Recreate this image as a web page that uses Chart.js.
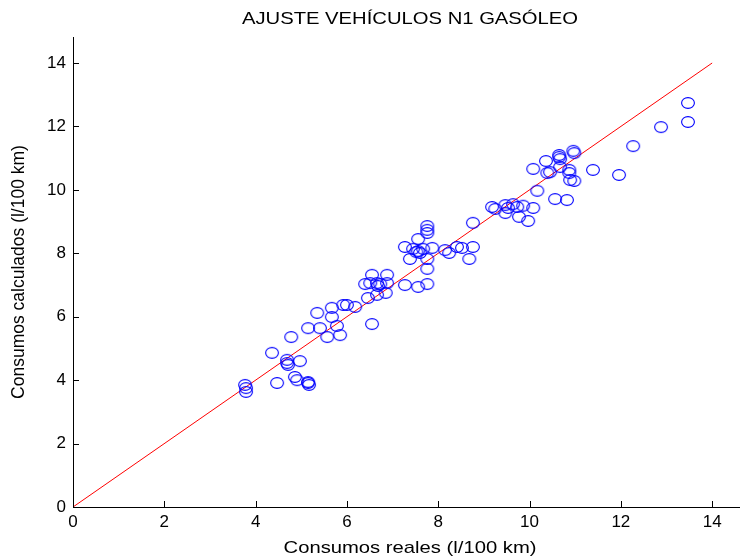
<!DOCTYPE html>
<html lang="es">
<head>
<meta charset="UTF-8">
<title>Ajuste vehículos N1 gasóleo</title>
<script src="https://cdn.jsdelivr.net/npm/chart.js"></script>
<style>
    * { margin: 0; padding: 0; box-sizing: border-box; }
    body { background: #fff; }
    .wrap { width: 740px; height: 560px; }
</style>
</head>
<body>
<div class="wrap"><canvas id="ajusteChart"></canvas></div>
<script>
// consumo real vs. consumo calculado por el modelo (l/100 km)
const consumoReal = [
    3.77, 3.79, 3.79, 4.36, 4.47, 4.69, 4.69, 4.71, 4.78, 4.97,
    4.86, 4.91, 5.15, 5.15, 5.17, 5.15, 5.41, 5.57, 5.78, 5.85,
    5.35, 5.67, 5.67, 5.92, 6.00, 6.18, 6.46, 6.40, 6.51, 6.55,
    6.66, 6.68, 6.73, 6.88, 6.88, 6.85, 6.66, 6.55, 7.27, 7.56,
    7.76, 7.27, 7.45, 7.52, 7.56, 7.60, 7.67, 7.56, 7.76, 7.76,
    7.76, 7.87, 7.38, 7.76, 7.76, 8.15, 8.24, 8.41, 8.52, 8.76,
    8.68, 8.76, 9.18, 9.25, 9.47, 9.47, 9.53, 9.64, 9.73, 9.77,
    9.86, 9.97, 10.08, 10.17, 10.08, 10.36, 10.39, 10.45, 10.56, 10.65,
    10.65, 10.67, 10.67, 10.87, 10.87, 10.89, 10.98, 10.96, 10.98, 10.82,
    11.39, 11.96, 12.27, 12.88, 13.47, 13.47
];
const consumoCalc = [
    3.85, 3.75, 3.63, 4.86, 3.91, 4.64, 4.54, 4.48, 5.36, 4.60,
    4.10, 4.00, 3.94, 3.91, 3.85, 5.64, 5.64, 5.36, 5.71, 5.42,
    6.12, 5.99, 6.28, 6.37, 6.37, 6.31, 6.59, 7.03, 7.06, 7.32,
    7.06, 6.97, 7.03, 7.06, 7.32, 6.75, 6.69, 5.77, 7.00, 6.94,
    7.03, 8.20, 8.14, 8.04, 8.07, 8.01, 8.14, 8.45, 8.86, 8.74,
    8.64, 8.17, 7.82, 7.82, 7.51, 8.10, 8.01, 8.20, 8.17, 8.20,
    7.82, 8.96, 9.46, 9.40, 9.52, 9.27, 9.43, 9.55, 9.46, 9.15,
    9.50, 9.02, 9.43, 9.97, 10.66, 10.91, 10.53, 10.56, 9.71, 11.10,
    11.04, 10.97, 10.72, 10.63, 10.53, 10.31, 10.28, 11.23, 11.16, 9.68,
    10.63, 10.47, 11.38, 11.98, 12.74, 12.14
];
// recta y = x
const rectaX = [0, 14];
const rectaY = [0, 14];
const ticksEjes = [0, 2, 4, 6, 8, 10, 12, 14];

const titulo = 'AJUSTE VEHÍCULOS N1 GASÓLEO';
const tituloX = 'Consumos reales (l/100 km)';
const tituloY = 'Consumos calculados (l/100 km)';

const FUENTE = "'Liberation Sans', Arial, sans-serif";

// marcador 'o' algo achatado
function marcador() {
    const c = document.createElement('canvas');
    c.width = 16; c.height = 14;
    const g = c.getContext('2d');
    g.strokeStyle = '#0000ff';
    g.lineWidth = 1.1;
    g.beginPath();
    g.ellipse(8, 7, 6.4, 5.4, 0, 0, Math.PI * 2);
    g.stroke();
    return c;
}

// marcas de escala hacia dentro
const marcasDentro = {
    id: 'marcasDentro',
    afterDraw(chart) {
        const { ctx, chartArea, scales } = chart;
        ctx.save();
        ctx.strokeStyle = '#000';
        ctx.lineWidth = 1;
        ctx.beginPath();
        ticksEjes.forEach(v => {
            const px = Math.round(scales.x.getPixelForValue(v)) + 0.5;
            ctx.moveTo(px, chartArea.bottom);
            ctx.lineTo(px, chartArea.bottom - 6);
            const py = Math.round(scales.y.getPixelForValue(v)) + 0.5;
            ctx.moveTo(chartArea.left, py);
            ctx.lineTo(chartArea.left + 6, py);
        });
        ctx.stroke();
        ctx.restore();
    }
};

// títulos horizontales, algo ensanchados
const textosAnchos = {
    id: 'textosAnchos',
    afterDraw(chart) {
        const { ctx } = chart;
        const cx = 410;
        ctx.save();
        ctx.fillStyle = '#000';
        ctx.font = '17px ' + FUENTE;
        ctx.textAlign = 'center';
        ctx.textBaseline = 'alphabetic';
        [[titulo, 23.5], [tituloX, 552.5]].forEach(([txt, y]) => {
            ctx.save();
            ctx.translate(cx, y);
            ctx.scale(1.19, 1);
            ctx.fillText(txt, 0, 0);
            ctx.restore();
        });
        ctx.restore();
    }
};

const puntos = consumoReal.map((x, i) => ({ x: x, y: consumoCalc[i] }));
const recta = rectaX.map((x, i) => ({ x: x, y: rectaY[i] }));

new Chart(document.getElementById('ajusteChart'), {
    type: 'scatter',
    data: {
        datasets: [
            {
                data: recta,
                showLine: true,
                borderColor: '#ff0000',
                borderWidth: 1,
                pointRadius: 0,
                order: 2
            },
            {
                data: puntos,
                pointStyle: marcador(),
                pointRadius: 6,
                order: 1
            }
        ]
    },
    options: {
        responsive: true,
        maintainAspectRatio: false,
        animation: false,
        layout: { autoPadding: false, padding: { top: 37, right: 0, left: 0, bottom: 0 } },
        plugins: {
            legend: { display: false },
            tooltip: { enabled: false },
            title: { display: false }
        },
        scales: {
            x: {
                type: 'linear',
                min: 0,
                max: 14.61,
                afterFit: s => {
                    s.height = 53;
                    s.paddingLeft = 0;
                    s.paddingRight = 0;
                },
                afterBuildTicks: s => { s.ticks = ticksEjes.map(v => ({ value: v })); },
                grid: { display: false, drawTicks: false },
                border: { display: true, color: '#000', width: 1 },
                ticks: {
                    color: '#000',
                    padding: 5,
                    maxRotation: 0,
                    font: { family: FUENTE, size: 17 }
                }
            },
            y: {
                type: 'linear',
                min: 0,
                max: 14.82,
                afterFit: s => {
                    s.width = 73;
                    s.paddingTop = 0;
                    s.paddingBottom = 0;
                },
                afterBuildTicks: s => { s.ticks = ticksEjes.map(v => ({ value: v })); },
                grid: { display: false, drawTicks: false },
                border: { display: true, color: '#000', width: 1 },
                ticks: {
                    color: '#000',
                    padding: 7,
                    font: { family: FUENTE, size: 17 }
                },
                title: {
                    display: true,
                    text: tituloY,
                    color: '#000',
                    font: { family: FUENTE, size: 17.5 },
                    padding: { top: 9, bottom: 0 }
                }
            }
        }
    },
    plugins: [marcasDentro, textosAnchos]
});
</script>
</body>
</html>
